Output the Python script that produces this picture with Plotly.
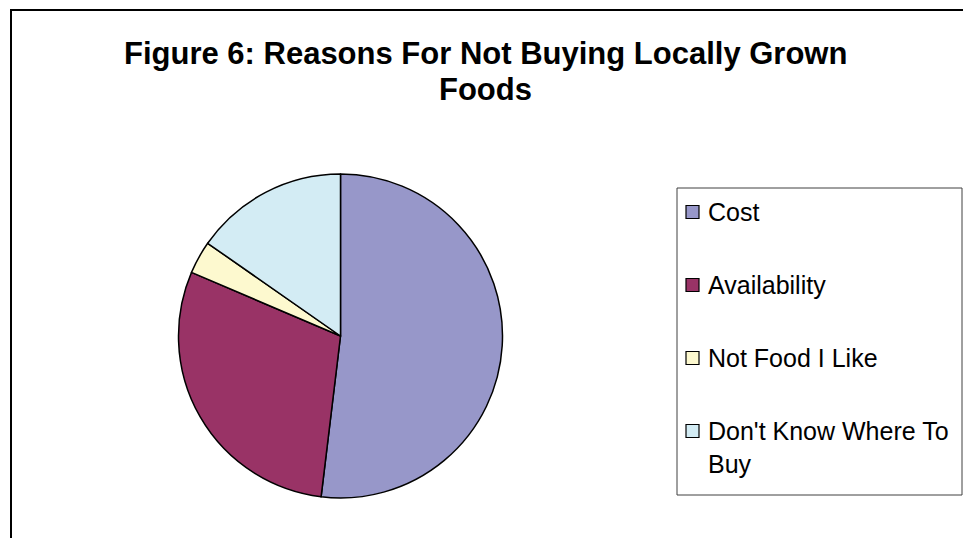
import textwrap
import plotly.graph_objects as go

# Survey responses: reasons for not buying locally grown foods
reasons = ["Cost", "Availability", "Not Food I Like", "Don't Know Where To Buy"]
responses = [95, 54, 6, 28]
slice_colors = ["#9797C9", "#993366", "#FDF9CF", "#D3ECF4"]

title_lines = ["Figure 6: Reasons For Not Buying Locally Grown", "Foods"]

W, H = 963, 538
FONT = "Liberation Sans, Arial, sans-serif"


def px(x):
    return x / W


def py(y):
    return 1 - y / H


fig = go.Figure(
    go.Pie(
        labels=reasons,
        values=responses,
        sort=False,
        direction="clockwise",
        rotation=0,
        textinfo="none",
        hoverinfo="label+value+percent",
        marker=dict(colors=slice_colors, line=dict(color="#000000", width=1.5)),
        domain=dict(x=[px(178), px(503)], y=[py(498), py(174)]),
        showlegend=False,
    )
)

shapes = [
    # outer chart frame
    dict(type="rect", xref="paper", yref="paper",
         x0=px(11), x1=1.05, y0=-0.05, y1=py(10),
         line=dict(color="#000000", width=2)),
    # legend frame
    dict(type="rect", xref="paper", yref="paper",
         x0=px(677), x1=px(962), y0=py(495), y1=py(188),
         line=dict(color="#404040", width=1), fillcolor="white"),
]

# two-line bold title, one annotation per line
annotations = []
for line, yc in zip(title_lines, [54, 90]):
    annotations.append(dict(text="<b>" + line + "</b>",
                            x=px(486), y=py(yc), xref="paper", yref="paper",
                            xanchor="center", yanchor="middle", showarrow=False,
                            font=dict(family=FONT, size=31, color="#000000")))

row_y = [212, 285, 358, 431]
for name, color, yc in zip(reasons, slice_colors, row_y):
    shapes.append(dict(type="rect", xref="paper", yref="paper",
                       x0=px(686), x1=px(699), y0=py(yc + 6.5), y1=py(yc - 6.5),
                       line=dict(color="#000000", width=1.2), fillcolor=color))
    wrapped = "<br>".join(textwrap.wrap(name, 19))
    annotations.append(dict(text=wrapped, x=px(706), y=py(yc - 16), xref="paper", yref="paper",
                            xanchor="left", yanchor="top", showarrow=False, align="left",
                            font=dict(family=FONT, size=25, color="#000000")))

fig.update_layout(
    width=W, height=H,
    margin=dict(l=0, r=0, t=0, b=0),
    paper_bgcolor="white",
    plot_bgcolor="white",
    shapes=shapes,
    annotations=annotations,
)

fig.write_html("out.html")
